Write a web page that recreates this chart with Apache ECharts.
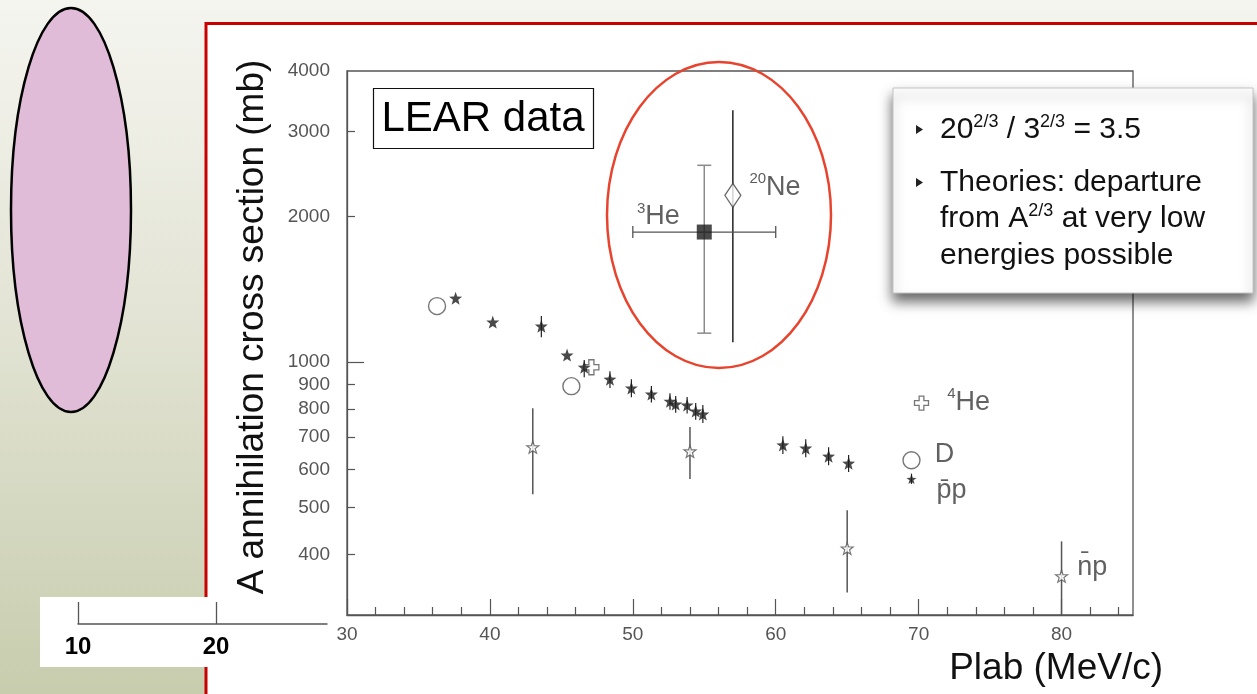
<!DOCTYPE html>
<html>
<head>
<meta charset="utf-8">
<script src="https://cdn.jsdelivr.net/npm/echarts@6/dist/echarts.min.js"></script>
<style>
  html, body { margin: 0; padding: 0; background: #fff; }
  #chart { width: 1257px; height: 694px; }
</style>
</head>
<body>
<div id="chart"></div>
<script>
// p̄p annihilation cross sections (filled stars), mb, with error limits
const ppPlab  = [37.6, 40.2, 43.6, 45.4, 46.6, 48.4, 49.9, 51.3, 52.6, 53.0, 53.8, 54.4, 54.9, 60.5, 62.1, 63.7, 65.1];
const ppSigma = [1356, 1210, 1187, 1034, 976, 922, 884, 859, 830, 819, 815, 792, 781, 674, 664, 639, 618];
const ppLow   = [null, null, 1126, null, 931, 884, 846, 825, 797, 786, 783, 760, 748, 646, 636, 612, 593];
const ppHigh  = [null, null, 1245, null, 1010, 958, 922, 893, 862, 851, 847, 823, 815, 703, 693, 667, 643];

// n̄p (open stars)
const npPlab  = [43.0, 54.0, 65.0, 80.0];
const npSigma = [667, 654, 412, 361];
const npLow   = [533, 573, 334, 300];
const npHigh  = [803, 734, 494, 426];

// Deuterium (open circles) and 4He (open cross)
const dPlab    = [36.3, 45.7];
const dSigma   = [1306, 892];
const he4Plab  = [47.1];
const he4Sigma = [976];

// 3He (filled square) with momentum and cross-section ranges
const he3Plab     = [55.0];
const he3Sigma    = [1858];
const he3PlabLow  = [50.0];
const he3PlabHigh = [60.0];
const he3Low      = [1148];
const he3High     = [2553];

// 20Ne (open diamond)
const ne20Plab  = [57.0];
const ne20Sigma = [2213];
const ne20Low   = [1100];
const ne20High  = [3318];

// key symbols: 4He cross, D circle, p̄p star
const keyPlab  = [70.2, 69.5, 69.5];
const keySigma = [823, 627, 573];
const keyLow   = [null, null, 560];
const keyHigh  = [null, null, 588];
const keySup   = ['4', '', ''];
const keyName  = ['He', 'D', 'p\u0304p'];

// axis ticks
const xTicks      = [30, 40, 50, 60, 70, 80];
const xMinorTicks = [32, 34, 36, 38, 42, 44, 46, 48, 52, 54, 56, 58, 62, 64, 66, 68, 72, 74, 76, 78, 82, 84];
const yTicks      = [400, 500, 600, 700, 800, 900, 1000, 2000, 3000, 4000];
const yMajorTicks = [1000];
const yMinorTicks = [400, 500, 600, 700, 800, 900, 2000, 3000];
const scaleTicks  = [10, 20];

const lg = Math.log10;
const FONT = 'Liberation Sans';
const STAR = 'path://M0,-10L2.35,-3.24L9.51,-3.09L3.8,1.24L5.88,8.09L0,4.4L-5.88,8.09L-3.8,1.24L-9.51,-3.09L-2.35,-3.24Z';
const PLUS = 'path://M-2.2,-6.5H2.2V-2.2H6.5V2.2H2.2V6.5H-2.2V2.2H-6.5V-2.2H-2.2Z';

const chart = echarts.init(document.getElementById('chart'), null, { renderer: 'canvas' });

const labelRich = {
  s: { fontFamily: FONT, fontSize: 15, lineHeight: 15, verticalAlign: 'top', color: '#333' },
  m: { fontFamily: FONT, fontSize: 27, lineHeight: 32, color: '#3a3a3a' }
};
const richText = (sup, main) => (sup ? '{s|' + sup + '}' : '') + '{m|' + main + '}';

function vbar(color, width) {
  return function (params, api) {
    const x = api.value(0);
    const a = api.coord([x, api.value(1)]);
    const b = api.coord([x, api.value(2)]);
    return {
      type: 'line',
      shape: { x1: a[0], y1: a[1], x2: b[0], y2: b[1] },
      style: { stroke: color, lineWidth: width }
    };
  };
}

const ppErr = [];
ppPlab.forEach((x, i) => { if (ppLow[i] != null) ppErr.push([x, lg(ppLow[i]), lg(ppHigh[i])]); });
keyPlab.forEach((x, i) => { if (keyLow[i] != null) ppErr.push([x, lg(keyLow[i]), lg(keyHigh[i])]); });

const npErr = npPlab.map((x, i) => [x, lg(npLow[i]), lg(npHigh[i])]);
const ne20Err = ne20Plab.map((x, i) => [x, lg(ne20Low[i]), lg(ne20High[i])]);
const he3Err = he3Plab.map((x, i) => [x, lg(he3Sigma[i]), he3PlabLow[i], he3PlabHigh[i], lg(he3Low[i]), lg(he3High[i])]);

const keySymbols = [
  { symbol: PLUS, symbolSize: 14, itemStyle: { color: '#fff', borderColor: '#555', borderWidth: 1.3 } },
  { symbol: 'circle', symbolSize: 17, itemStyle: { color: '#fff', borderColor: '#555', borderWidth: 1.4 } },
  { symbol: STAR, symbolSize: 10, itemStyle: { color: '#1c1c1c' } }
];
const keyLabelPos = [
  { distance: 18, offset: [0, -1] },
  { distance: 14, offset: [0, -6] },
  { distance: 20, offset: [0, 11] }
];

const option = {
  animation: false,
  textStyle: { fontFamily: FONT },
  grid: [
    { left: 347, top: 71, width: 786, height: 544, show: true, borderColor: '#555', borderWidth: 1.3, backgroundColor: 'transparent' },
    { left: 78, top: 600, width: 249, height: 24 }
  ],
  xAxis: [
    {
      gridIndex: 0, type: 'value', min: 30, max: 85, position: 'bottom',
      axisLine: { show: true, onZero: false, lineStyle: { color: '#555', width: 1.3 } },
      axisTick: { show: true, inside: true, length: 16, customValues: xTicks, lineStyle: { color: '#555', width: 1.2 } },
      axisLabel: { customValues: xTicks, color: '#555', fontSize: 19, margin: 10, fontFamily: FONT },
      splitLine: { show: false },
      name: 'Plab (MeV/c)', nameLocation: 'end', nameGap: 30,
      nameTextStyle: { fontFamily: FONT, fontSize: 37, color: '#111', align: 'right', verticalAlign: 'top', padding: [35, 0, 0, 0] }
    },
    {
      gridIndex: 0, type: 'value', min: 30, max: 85, position: 'bottom', offset: 0,
      axisLine: { show: false },
      axisTick: { show: true, inside: true, length: 8, customValues: xMinorTicks, lineStyle: { color: '#555', width: 1.2 } },
      axisLabel: { show: false },
      splitLine: { show: false }
    },
    {
      gridIndex: 1, type: 'value', min: 10, max: 28.04, position: 'bottom',
      axisLine: { show: true, onZero: false, lineStyle: { color: '#555', width: 1.5 } },
      axisTick: { show: true, inside: true, length: 22, customValues: scaleTicks, lineStyle: { color: '#555', width: 1.3 } },
      axisLabel: { customValues: scaleTicks, color: '#000', fontSize: 24, margin: 11, fontFamily: FONT, fontWeight: 'bold' },
      splitLine: { show: false }
    }
  ],
  yAxis: [
    {
      gridIndex: 0, type: 'value', min: lg(300), max: lg(4000), position: 'left',
      axisLine: { show: true, onZero: false, lineStyle: { color: '#555', width: 1.3 } },
      axisTick: { show: true, inside: true, length: 17, customValues: yMajorTicks.map(lg), lineStyle: { color: '#555', width: 1.2 } },
      axisLabel: {
        customValues: yTicks.map(lg), color: '#555', fontSize: 19, margin: 17, fontFamily: FONT,
        formatter: v => String(Math.round(Math.pow(10, v)))
      },
      splitLine: { show: false },
      name: 'A annihilation cross section (mb)', nameLocation: 'middle', nameRotate: 90, nameGap: 76,
      nameTextStyle: { fontFamily: FONT, fontSize: 37, color: '#111', padding: [0, 0, 0, 32] }
    },
    {
      gridIndex: 0, type: 'value', min: lg(300), max: lg(4000), position: 'left', offset: 0,
      axisLine: { show: false },
      axisTick: { show: true, inside: true, length: 8, customValues: yMinorTicks.map(lg), lineStyle: { color: '#555', width: 1.2 } },
      axisLabel: { show: false },
      splitLine: { show: false }
    },
    { gridIndex: 1, type: 'value', min: 0, max: 1, show: false }
  ],
  graphic: [
    // slide background and framed panel
    {
      type: 'rect', z: -100, shape: { x: 0, y: 0, width: 1257, height: 694 },
      style: { fill: new echarts.graphic.LinearGradient(0, 0, 0, 1, [
        { offset: 0, color: '#f5f5f0' }, { offset: 0.45, color: '#e3e4d5' }, { offset: 1, color: '#c8cdae' }
      ]) }
    },
    { type: 'rect', z: -90, shape: { x: 206, y: 23.5, width: 1100, height: 720 }, style: { fill: '#fff', stroke: '#c90000', lineWidth: 3 } },
    { type: 'ellipse', z: -80, shape: { cx: 71, cy: 210, rx: 60, ry: 202 }, style: { fill: '#e0bcd8', stroke: '#000', lineWidth: 2.5 } },
    { type: 'rect', z: -80, shape: { x: 40, y: 597, width: 300, height: 70 }, style: { fill: '#fff' } },
    // LEAR caption
    { type: 'rect', z: 10, shape: { x: 373.5, y: 88.5, width: 220, height: 60 }, style: { fill: '#fff', stroke: '#111', lineWidth: 1.2 } },
    { type: 'text', z: 11, style: { x: 483, y: 119, text: 'LEAR data', font: '42px "Liberation Sans"', fill: '#000', align: 'center', verticalAlign: 'middle' } },
    // highlighted 3He / 20Ne region
    { type: 'ellipse', z: 5, shape: { cx: 719, cy: 215, rx: 112, ry: 153 }, style: { fill: 'none', stroke: '#e8432d', lineWidth: 2.5 } },
    // note box
    {
      type: 'rect', z: 20, shape: { x: 893, y: 88, width: 360, height: 205 },
      style: { fill: '#fff', stroke: '#c4c4c4', lineWidth: 1, shadowBlur: 12, shadowOffsetY: 8, shadowColor: 'rgba(0,0,0,0.6)' }
    },
    { type: 'polygon', z: 21, shape: { points: [[916, 125], [923, 129.5], [916, 134]] }, style: { fill: '#222' } },
    { type: 'polygon', z: 21, shape: { points: [[916, 178], [923, 182.5], [916, 187]] }, style: { fill: '#222' } },
    {
      type: 'text', z: 21,
      style: {
        x: 940, y: 130, verticalAlign: 'middle', fill: '#111',
        text: '{n|20}{s|2/3}{n| / 3}{s|2/3}{n| = 3.5}',
        rich: {
          n: { fontFamily: FONT, fontSize: 30, lineHeight: 34, fill: '#111' },
          s: { fontFamily: FONT, fontSize: 18, lineHeight: 20, verticalAlign: 'top', fill: '#111' }
        }
      }
    },
    { type: 'text', z: 21, style: { x: 940, y: 183, verticalAlign: 'middle', text: 'Theories: departure', font: '30px "Liberation Sans"', fill: '#111' } },
    {
      type: 'text', z: 21,
      style: {
        x: 940, y: 219, verticalAlign: 'middle', fill: '#111',
        text: '{n|from A}{s|2/3}{n| at very low}',
        rich: {
          n: { fontFamily: FONT, fontSize: 30, lineHeight: 34, fill: '#111' },
          s: { fontFamily: FONT, fontSize: 18, lineHeight: 20, verticalAlign: 'top', fill: '#111' }
        }
      }
    },
    { type: 'text', z: 21, style: { x: 940, y: 256, verticalAlign: 'middle', text: 'energies possible', font: '30px "Liberation Sans"', fill: '#111' } }
  ],
  series: [
    {
      name: 'ppbar-err', type: 'custom', xAxisIndex: 0, yAxisIndex: 0, z: 2,
      renderItem: vbar('#222', 1.2), encode: { x: 0, y: [1, 2] }, data: ppErr
    },
    {
      name: 'npbar-err', type: 'custom', xAxisIndex: 0, yAxisIndex: 0, z: 2,
      renderItem: vbar('#555', 1.5), encode: { x: 0, y: [1, 2] }, data: npErr
    },
    {
      name: 'ne20-err', type: 'custom', xAxisIndex: 0, yAxisIndex: 0, z: 2,
      renderItem: vbar('#222', 1.5), encode: { x: 0, y: [1, 2] }, data: ne20Err
    },
    {
      name: 'he3-err', type: 'custom', xAxisIndex: 0, yAxisIndex: 0, z: 2,
      encode: { x: [0, 2, 3], y: [1, 4, 5] }, data: he3Err,
      renderItem: function (params, api) {
        const x = api.value(0), y = api.value(1);
        const l = api.coord([api.value(2), y]);
        const r = api.coord([api.value(3), y]);
        const b = api.coord([x, api.value(4)]);
        const t = api.coord([x, api.value(5)]);
        const hs = { stroke: '#555', lineWidth: 1.3 };
        const vs = { stroke: '#8a8a8a', lineWidth: 1.5 };
        return {
          type: 'group',
          children: [
            { type: 'line', shape: { x1: l[0], y1: l[1], x2: r[0], y2: r[1] }, style: hs },
            { type: 'line', shape: { x1: l[0], y1: l[1] - 6, x2: l[0], y2: l[1] + 6 }, style: hs },
            { type: 'line', shape: { x1: r[0], y1: r[1] - 6, x2: r[0], y2: r[1] + 6 }, style: hs },
            { type: 'line', shape: { x1: b[0], y1: b[1], x2: t[0], y2: t[1] }, style: vs },
            { type: 'line', shape: { x1: b[0] - 7, y1: b[1], x2: b[0] + 7, y2: b[1] }, style: vs },
            { type: 'line', shape: { x1: t[0] - 7, y1: t[1], x2: t[0] + 7, y2: t[1] }, style: vs }
          ]
        };
      }
    },
    {
      name: 'D', type: 'scatter', xAxisIndex: 0, yAxisIndex: 0, z: 3,
      symbol: 'circle', symbolSize: 17,
      itemStyle: { color: '#fff', borderColor: '#555', borderWidth: 1.4 },
      data: dPlab.map((x, i) => [x, lg(dSigma[i])])
    },
    {
      name: '4He', type: 'scatter', xAxisIndex: 0, yAxisIndex: 0, z: 3,
      symbol: PLUS, symbolSize: 15,
      itemStyle: { color: '#fff', borderColor: '#555', borderWidth: 1.3 },
      data: he4Plab.map((x, i) => [x, lg(he4Sigma[i])])
    },
    {
      name: 'ppbar', type: 'scatter', xAxisIndex: 0, yAxisIndex: 0, z: 4,
      symbol: STAR, symbolSize: 13,
      itemStyle: { color: '#1c1c1c' },
      data: ppPlab.map((x, i) => [x, lg(ppSigma[i])])
    },
    {
      name: 'npbar', type: 'scatter', xAxisIndex: 0, yAxisIndex: 0, z: 4,
      symbol: STAR, symbolSize: 12,
      itemStyle: { color: '#fff', borderColor: '#555', borderWidth: 1.2 },
      data: npPlab.map((x, i) => {
        const item = { value: [x, lg(npSigma[i])] };
        if (i === npPlab.length - 1) {
          item.label = { show: true, position: 'right', distance: 9, offset: [0, -9], formatter: richText('', 'n\u0304p'), rich: labelRich };
        }
        return item;
      })
    },
    {
      name: '3He', type: 'scatter', xAxisIndex: 0, yAxisIndex: 0, z: 4,
      symbol: 'rect', symbolSize: 15,
      itemStyle: { color: '#1c1c1c' },
      label: { show: true, position: 'left', distance: 17, offset: [0, -15], formatter: richText('3', 'He'), rich: labelRich },
      data: he3Plab.map((x, i) => [x, lg(he3Sigma[i])])
    },
    {
      name: '20Ne', type: 'scatter', xAxisIndex: 0, yAxisIndex: 0, z: 4,
      symbol: 'diamond', symbolSize: [16, 24],
      itemStyle: { color: '#fff', borderColor: '#444', borderWidth: 1.3 },
      label: { show: true, position: 'right', distance: 8, offset: [0, -8], formatter: richText('20', 'Ne'), rich: labelRich },
      data: ne20Plab.map((x, i) => [x, lg(ne20Sigma[i])])
    },
    {
      name: 'key', type: 'scatter', xAxisIndex: 0, yAxisIndex: 0, z: 4,
      data: keyPlab.map((x, i) => Object.assign({
        value: [x, lg(keySigma[i])],
        label: {
          show: true, position: 'right', distance: keyLabelPos[i].distance, offset: keyLabelPos[i].offset,
          formatter: richText(keySup[i], keyName[i]), rich: labelRich
        }
      }, keySymbols[i]))
    },
    {
      name: 'scale', type: 'scatter', xAxisIndex: 2, yAxisIndex: 2, data: [], silent: true
    }
  ]
};

chart.setOption(option);
</script>
</body>
</html>
